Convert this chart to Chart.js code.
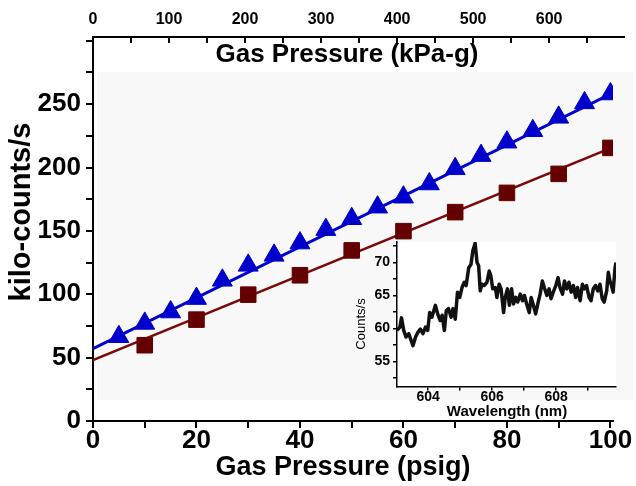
<!DOCTYPE html>
<html>
<head>
<meta charset="utf-8">
<script src="https://cdn.jsdelivr.net/npm/chart.js@4.4.0/dist/chart.umd.min.js"></script>
<style>
  html, body { margin: 0; padding: 0; background: #fff; }
  #wrap { position: relative; width: 636px; height: 486px; }
  #main { position: absolute; left: 0; top: 0; width: 636px; height: 486px; }
  #inset { position: absolute; left: 340px; top: 230px; width: 296px; height: 200px; }
</style>
</head>
<body>
<div id="wrap">
  <canvas id="main" width="636" height="486"></canvas>
  <canvas id="inset" width="296" height="200"></canvas>
</div>
<script>
// main plot: count rate vs gas pressure
const triPsi = [5, 10, 15, 20, 25, 30, 35, 40, 45, 50, 55, 60, 65, 70, 75, 80, 85, 90, 95, 100];
const triCounts = [66.5, 77, 86, 96.6, 111, 122.8, 130.7, 140.4, 151, 159.6, 168.7, 176.6, 187, 199, 209.4, 220, 229, 239.6, 251, 258];
const sqPsi = [10, 20, 30, 40, 50, 60, 70, 80, 90, 100];
const sqCounts = [59.8, 80, 99.7, 115, 134.6, 149.8, 164.8, 180, 195, 215.5];
// fitted lines (end points)
const fitPsi = [0, 100.5];
const triFit = [57, 259];
const sqFit = [48, 216];
// top axis range (kPa-g)
const kpaMax = 684;

// inset spectrum
const wavelength = [603.03,603.12,603.17,603.24,603.31,603.40,603.47,603.53,603.61,603.68,
  603.76,603.84,603.92,603.99,604.05,604.12,604.23,604.30,604.38,604.44,
  604.51,604.57,604.64,604.72,604.78,604.85,604.92,604.99,605.06,605.13,
  605.19,605.27,605.34,605.40,605.47,605.53,605.58,605.63,605.68,605.75,
  605.84,605.91,605.96,606.02,606.10,606.15,606.22,606.28,606.36,606.41,
  606.48,606.54,606.61,606.67,606.74,606.80,606.88,606.95,607.01,607.08,
  607.16,607.22,607.29,607.36,607.45,607.50,607.57,607.63,607.71,607.78,
  607.84,607.91,607.99,608.06,608.12,608.20,608.26,608.33,608.40,608.47,
  608.54,608.61,608.67,608.75,608.82,608.88,608.95,609.03,609.09,609.16,
  609.23,609.30,609.37,609.44,609.50,609.58,609.63,609.68,609.73,609.78,
  609.84,609.87];
const spectrum = [59.7,60.2,61.6,59.7,58.7,59.2,58.2,57.4,58.7,59.4,
  59.9,59.2,60.2,59.7,62.4,61.7,63.5,62.2,61.2,62.0,
  59.7,62.7,63.0,61.7,63.0,61.4,65.5,64.7,66.2,67.0,
  66.5,69.2,69.7,71.8,72.9,70.0,69.5,65.7,66.7,66.5,
  67.0,68.7,68.0,66.0,66.2,64.7,66.7,66.0,62.4,64.7,
  66.0,63.5,66.0,63.7,64.7,64.0,65.2,64.2,65.0,63.7,
  62.4,64.7,63.5,62.2,64.2,65.2,67.2,66.2,65.0,66.0,
  64.5,65.5,66.5,67.7,66.2,65.2,67.2,66.0,67.0,65.5,
  66.5,64.7,66.2,64.2,66.7,66.0,66.5,64.7,64.2,66.0,
  66.5,65.7,66.7,64.5,64.0,65.7,68.5,67.2,66.5,65.5,
  69.2,70.0];

const FONT = "'Liberation Sans', Arial, sans-serif";
Chart.defaults.font.family = FONT;
Chart.defaults.color = "#000";

const pts = (xs, ys) => xs.map((x, i) => ({ x: x, y: ys[i] }));
const isMult = (v, m) => Math.abs(v / m - Math.round(v / m)) < 1e-6;

const mainDecor = {
  id: "mainDecor",
  beforeDraw(chart) {
    const { ctx, chartArea: a } = chart;
    ctx.save();
    ctx.fillStyle = "#fff";
    ctx.fillRect(0, 0, chart.width, chart.height);
    ctx.fillStyle = "#f8f8f8";
    ctx.fillRect(a.left + 4, a.top + 35, chart.width - a.left - 6, a.bottom - a.top - 56);
    ctx.restore();
  },
  afterDraw(chart) {
    const { ctx, chartArea: a } = chart;
    ctx.save();
    // top axis runs on a little past the plot
    ctx.strokeStyle = "#000";
    ctx.lineWidth = 2;
    ctx.beginPath();
    ctx.moveTo(a.right, a.top);
    ctx.lineTo(a.right + 12, a.top);
    ctx.stroke();

    ctx.fillStyle = "#000";
    ctx.textAlign = "center";
    ctx.textBaseline = "middle";
    ctx.font = "bold 26px " + FONT;
    ctx.fillText("Gas Pressure (kPa-g)", 347, 55);
    ctx.font = "bold 27px " + FONT;
    ctx.fillText("Gas Pressure (psig)", 343, 468);
    ctx.translate(22, 212);
    ctx.rotate(-Math.PI / 2);
    ctx.font = "bold 29px " + FONT;
    ctx.fillText("kilo-counts/s", 0, 0);
    ctx.restore();
  }
};

new Chart(document.getElementById("main"), {
  type: "scatter",
  data: {
    datasets: [
      { type: "line", data: pts(fitPsi, triFit), borderColor: "#0000d0", borderWidth: 3, pointRadius: 0, xAxisID: "x", order: 3 },
      { type: "line", data: pts(fitPsi, sqFit), borderColor: "#7a0a0a", borderWidth: 2.5, pointRadius: 0, xAxisID: "x", order: 3 },
      { data: pts(triPsi, triCounts), pointStyle: "triangle", pointRadius: 11.5, pointBackgroundColor: "#0000cc", pointBorderColor: "#0000cc", pointBorderWidth: 1, xAxisID: "x", order: 1,
        clip: { left: 20, top: 20, right: 0, bottom: 20 } },
      { data: pts(sqPsi, sqCounts), pointStyle: "rect", pointRadius: 11, pointBackgroundColor: "#640000", pointBorderColor: "#640000", pointBorderWidth: 1, xAxisID: "x", order: 1,
        clip: { left: 20, top: 20, right: 0, bottom: 20 } }
    ]
  },
  options: {
    responsive: false,
    animation: false,
    layout: { padding: { left: 0, top: 0, right: 23, bottom: 0 } },
    plugins: { legend: { display: false }, tooltip: { enabled: false } },
    scales: {
      x: {
        type: "linear", position: "bottom", min: 0, max: 100.5,
        afterFit: s => { s.height = 65; },
        border: { display: true, color: "#000", width: 2 },
        grid: { drawOnChartArea: false, drawTicks: true, tickLength: 7, color: "#000", lineWidth: 2 },
        ticks: { stepSize: 10, includeBounds: false, autoSkip: false, maxRotation: 0, padding: 0,
          font: { size: 26, weight: "bold", lineHeight: 1 },
          callback: v => isMult(v, 20) ? v : "" }
      },
      x2: {
        type: "linear", position: "top", min: 0, max: kpaMax,
        afterFit: s => { s.height = 37; },
        border: { display: true, color: "#000", width: 2 },
        grid: { drawOnChartArea: false, drawTicks: true, tickLength: -6, color: "#000", lineWidth: 2 },
        ticks: { stepSize: 50, includeBounds: false, autoSkip: false, maxRotation: 0, padding: 15,
          font: { size: 16, weight: "bold", lineHeight: 1 },
          callback: v => isMult(v, 100) ? v : "" }
      },
      y: {
        type: "linear", position: "left", min: 0, max: 303,
        afterFit: s => { s.width = 93; },
        border: { display: true, color: "#000", width: 2 },
        grid: { drawOnChartArea: false, drawTicks: true, tickLength: 7, color: "#000", lineWidth: 2 },
        ticks: { stepSize: 25, includeBounds: false, autoSkip: false, padding: 5,
          font: { size: 26, weight: "bold", lineHeight: 1 },
          callback: v => (isMult(v, 50) && v < 275) ? v : "" }
      }
    }
  },
  plugins: [mainDecor]
});

const insetDecor = {
  id: "insetDecor",
  beforeDraw(chart) {
    const { ctx, chartArea: a } = chart;
    ctx.save();
    ctx.fillStyle = "#fff";
    ctx.fillRect(a.left, a.top, a.right - a.left, a.bottom - a.top);
    ctx.restore();
  },
  afterDraw(chart) {
    const { ctx } = chart;
    ctx.save();
    ctx.fillStyle = "#000";
    ctx.textAlign = "center";
    ctx.textBaseline = "middle";
    ctx.font = "bold 15px " + FONT;
    ctx.fillText("Wavelength (nm)", 167, 182);
    ctx.translate(21, 94);
    ctx.rotate(-Math.PI / 2);
    ctx.font = "13px " + FONT;
    ctx.fillText("Counts/s", 0, 0);
    ctx.restore();
  }
};

new Chart(document.getElementById("inset"), {
  type: "line",
  data: {
    datasets: [{
      data: pts(wavelength, spectrum),
      borderColor: "#111",
      borderWidth: 3.5,
      pointRadius: 0,
      tension: 0,
      borderJoinStyle: "round"
    }]
  },
  options: {
    responsive: false,
    animation: false,
    layout: { padding: { left: 0, top: 12, right: 20, bottom: 0 } },
    plugins: { legend: { display: false }, tooltip: { enabled: false } },
    scales: {
      x: {
        type: "linear", min: 603.03, max: 609.87,
        afterFit: s => { s.height = 43.5; },
        border: { display: true, color: "#000", width: 1.5 },
        grid: { drawOnChartArea: false, drawTicks: true, tickLength: 4, color: "#000", lineWidth: 1.5 },
        ticks: { stepSize: 1, includeBounds: false, autoSkip: false, maxRotation: 0, padding: 0,
          font: { size: 14, weight: "bold", lineHeight: 1 },
          callback: v => isMult(v, 2) ? v : "" }
      },
      y: {
        type: "linear", min: 51.2, max: 73.1,
        afterFit: s => { s.width = 57; },
        border: { display: true, color: "#000", width: 1.5 },
        grid: { drawOnChartArea: false, drawTicks: true, tickLength: 4, color: "#000", lineWidth: 1.5 },
        ticks: { stepSize: 2.5, includeBounds: false, autoSkip: false, padding: 3,
          font: { size: 14, weight: "bold", lineHeight: 1 },
          callback: v => isMult(v, 5) ? v : "" }
      }
    }
  },
  plugins: [insetDecor]
});
</script>
</body>
</html>
